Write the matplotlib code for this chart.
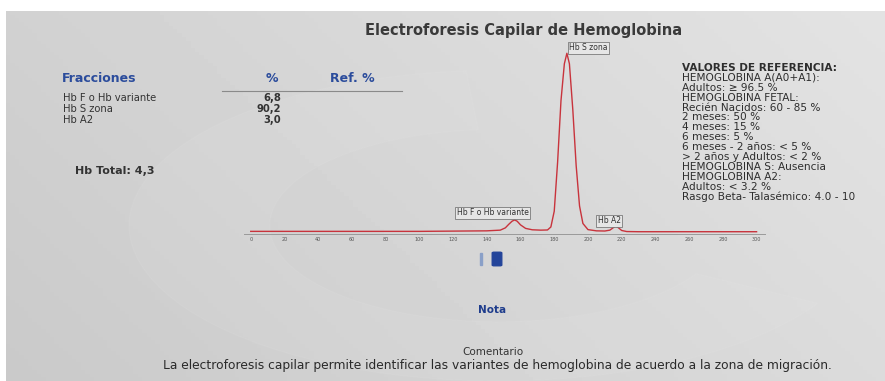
import matplotlib
matplotlib.use("Agg")
import matplotlib.pyplot as plt
import numpy as np
from matplotlib.patches import Rectangle, Wedge, FancyBboxPatch

# trace (migration position, relative signal)
pos = [0, 100, 140, 148, 151, 153, 155, 156.5, 158, 160, 163, 167, 172, 176,
       178, 180, 182, 184, 186, 187.5, 189, 191, 193, 195, 197, 200, 205,
       210, 213, 215, 216.5, 218, 220, 223, 230, 300]
signal = [0.5, 0.5, 0.8, 1.2, 2.5, 4.5, 6.3, 7.0, 6.3, 4.2, 2.2, 1.4, 1.2, 1.3,
          3.0, 12, 40, 75, 96, 102, 96, 70, 38, 15, 5, 1.5, 0.8,
          0.7, 1.2, 2.6, 3.4, 2.6, 1.0, 0.4, 0.3, 0.3]
xticks = list(range(0, 301, 20))

peak_names = ["Hb F o Hb variante", "Hb S zona", "Hb A2"]
label_x = [143.5, 188.8, 212.5]
label_y = [11.0, 105.0, 6.6]
label_ha = ["center", "left", "center"]

fracciones = ["Hb F o Hb variante", "Hb S zona", "Hb A2"]
porcentajes = ["6,8", "90,2", "3,0"]
hb_total = "4,3"

referencia = ["VALORES DE REFERENCIA:",
              "HEMOGLOBINA A(A0+A1):",
              "Adultos: \u2265 96.5 %",
              "HEMOGLOBINA FETAL:",
              "Recién Nacidos: 60 - 85 %",
              "2 meses: 50 %",
              "4 meses: 15 %",
              "6 meses: 5 %",
              "6 meses - 2 años: < 5 %",
              "> 2 años y Adultos: < 2 %",
              "HEMOGLOBINA S: Ausencia",
              "HEMOGLOBINA A2:",
              "Adultos: < 3.2 %",
              "Rasgo Beta- Talasémico: 4.0 - 10"]

W, H = 885, 381
fig = plt.figure(figsize=(W / 100, H / 100), dpi=100)
fig.patch.set_facecolor("white")

def fx(x):
    return x / W

def fy(y):
    return 1 - y / H

# photographed page background
bg = fig.add_axes([fx(6), 0, 1 - fx(6), 1 - 11 / H])
bg.set_xlim(0, 1)
bg.set_ylim(0, 1)
bg.axis("off")
gx, gy = np.meshgrid(np.linspace(0, 1, 200), np.linspace(0, 1, 100))
shade = 0.79 + 0.07 * gx + 0.03 * (1 - gy)
bg.imshow(shade, cmap="gray", vmin=0, vmax=1, extent=[0, 1, 0, 1], aspect="auto", zorder=0)
bg.add_patch(Wedge((0.56, 0.42), 0.42, 95, 330, width=0.16, color="white", alpha=0.05,
                   transform=bg.transAxes, zorder=1))

def txt(x, y, s, **kw):
    fig.text(fx(x), fy(y), s, **kw)

txt(524, 30, "Electroforesis Capilar de Hemoglobina", ha="center", va="center",
    fontsize=10.5, fontweight="bold", color="#3a3a3a")

blue = "#2b4c9c"
txt(62, 79, "Fracciones", ha="left", va="center", fontsize=9, fontweight="bold", color=blue)
txt(272, 79, "%", ha="center", va="center", fontsize=9, fontweight="bold", color=blue)
txt(352, 79, "Ref. %", ha="center", va="center", fontsize=9, fontweight="bold", color=blue)
fig.add_artist(plt.Line2D([fx(222), fx(402)], [fy(91), fy(91)], color="#8a8a8a", lw=0.8))
for i, (f, p) in enumerate(zip(fracciones, porcentajes)):
    yy = 98 + i * 11
    txt(63, yy, f, ha="left", va="center", fontsize=7.2, color="#333333")
    txt(281, yy, p, ha="right", va="center", fontsize=7.2, fontweight="bold", color="#333333")
txt(75, 171, "Hb Total: " + hb_total, ha="left", va="center", fontsize=8,
    fontweight="bold", color="#333333")

for i, line in enumerate(referencia):
    bold = i == 0
    txt(682, 68 + i * 9.9, line, ha="left", va="center", fontsize=7.6,
        fontweight="bold" if bold else "normal", color="#2e2e2e")

# electropherogram
x0, x1 = 244, 765
y0, y1 = 48, 234
ax = fig.add_axes([fx(x0), fy(y1), (x1 - x0) / W, (y1 - y0) / H])
ax.patch.set_alpha(0)
ax.plot(pos, signal, color="#c8333c", lw=1.0)
ax.set_xlim(-4, 305)
ax.set_ylim(-1, 105)
ax.set_xticks(xticks)
ax.tick_params(axis="x", length=0, labelsize=3.5, labelcolor="#555555", pad=2)
ax.set_yticks([])
for s in ["top", "right", "left"]:
    ax.spines[s].set_visible(False)
ax.spines["bottom"].set_color("#9a9a9a")
ax.spines["bottom"].set_linewidth(0.7)

for name, lx, ly, ha in zip(peak_names, label_x, label_y, label_ha):
    ax.text(lx, ly, name, ha=ha, va="center", fontsize=5.5, color="#333333", clip_on=False,
            bbox=dict(boxstyle="square,pad=0.2", fc="#e6e6e6", ec="#666666", lw=0.5))

# small selector marks under the chart
fig.add_artist(Rectangle((fx(480), fy(265)), fx(2), 12 / H, color="#8aa0c8"))
fig.add_artist(FancyBboxPatch((fx(494), fy(265)), fx(6), 12 / H,
                              boxstyle="round,pad=0.002", color="#23449a"))

txt(492, 310, "Nota", ha="center", va="center", fontsize=7.5, fontweight="bold", color="#1e3c8c")
txt(493, 352, "Comentario", ha="center", va="center", fontsize=7.5, color="#333333")
txt(497, 366, "La electroforesis capilar permite identificar las variantes de hemoglobina "
    "de acuerdo a la zona de migración.", ha="center", va="center", fontsize=8.8,
    color="#2a2a2a")

fig.savefig("out.png", dpi=100)
